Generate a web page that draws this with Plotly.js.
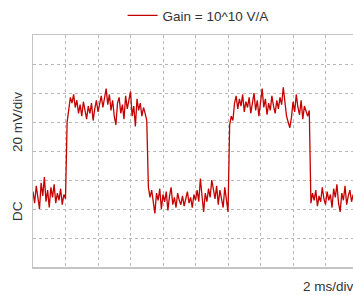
<!DOCTYPE html>
<html>
<head>
<meta charset="utf-8">
<script src="https://cdn.plot.ly/plotly-3.0.1.min.js"></script>
<style>html,body{margin:0;padding:0;background:#fff}#chart{width:353px;height:295px}</style>
</head>
<body>
<div id="chart"></div>
<script>
// Sampling interval of the trace (ms)
var sampleStepMs = 0.1;
// Trace values in mV (one value per sample)
var lowSeg1 = [52,44,56,47,40,58,49,62,45,53,41,55,48,57,44,51,46,54,43,50,47];
var highSeg1 = [100,108,117,113,119,110,115,106,112,104,114,108,102,111,106,113,101,109,115,107,
                112,118,110,116,123,112,119,108,115,104,98,113,117,106,112,102,118,109,114,121,
                104,111,97,116,108,113,104,110,106,101];
var lowSeg2 = [55,48,53,44,37,51,46,54,40,50,45,52,39,49,55,43,48,41,51,46,
               43,49,42,47,52,44,48,41,50,46,53,45,61,49,38,51,45,54,48,60,
               52,47,56,43,53,47,41,55,44,38];
var highSeg2 = [98,104,101,113,118,109,116,111,119,107,114,110,117,106,113,120,108,115,104,112,
                123,110,116,105,113,108,118,111,106,115,109,117,112,124,113,104,100,96,103,114,
                107,119,110,105,115,102,111,107,104,108];
var lowSeg3 = [44,51,46,53,42,49,45,55,47,43,52,46,50,41,54,48,57,44,38,51,46,56,43,49,53,45,50];

var traceName = 'Gain = 10^10 V/A';
var yLabel = '20 mV/div';
var couplingLabel = 'DC';
var xLabel = '2 ms/div';

var yVals = [].concat(lowSeg1, highSeg1, lowSeg2, highSeg2, lowSeg3);
var tVals = yVals.map(function(_, i){ return +(i * sampleStepMs).toFixed(2); });

var axisCommon = {
  showgrid: true, gridcolor: '#b8b8b8', griddash: 'dot', gridwidth: 1,
  zeroline: false, showticklabels: false, ticks: '',
  showline: true, linecolor: '#c4c4c4', linewidth: 1.5
};

var data = [{
  x: tVals, y: yVals, type: 'scatter', mode: 'lines', name: traceName,
  line: {color: '#c40000', width: 1.3}, showlegend: true
}];

var layout = {
  width: 353, height: 295,
  margin: {l: 33, r: 0, t: 35, b: 28},
  paper_bgcolor: '#fff', plot_bgcolor: '#fff',
  font: {family: 'Liberation Sans, Arial, sans-serif', size: 13.5, color: '#333'},
  xaxis: Object.assign({}, axisCommon, {range: [0, 19.69], dtick: 2, tick0: 0, mirror: true}),
  yaxis: Object.assign({}, axisCommon, {range: [0, 160], dtick: 20, tick0: 0, mirror: false}),
  showlegend: true,
  legend: {orientation: 'h', x: 0.28, xanchor: 'left', y: 1.086, yanchor: 'middle',
           bgcolor: 'rgba(0,0,0,0)', font: {size: 13.5, color: '#333'}},
  annotations: [
    {text: yLabel, xref: 'paper', yref: 'paper', x: -0.05, y: 0.625, textangle: -90,
     showarrow: false, xanchor: 'center', yanchor: 'middle', font: {size: 13.5, color: '#333'}},
    {text: couplingLabel, xref: 'paper', yref: 'paper', x: -0.05, y: 0.241, textangle: -90,
     showarrow: false, xanchor: 'center', yanchor: 'middle', font: {size: 13.5, color: '#333'}},
    {text: xLabel, xref: 'paper', yref: 'paper', x: (301-33)/320, y: -0.086,
     showarrow: false, xanchor: 'left', yanchor: 'middle', font: {size: 13.5, color: '#333'}}
  ]
};

Plotly.newPlot('chart', data, layout, {displayModeBar: false, staticPlot: true});
</script>
</body>
</html>
